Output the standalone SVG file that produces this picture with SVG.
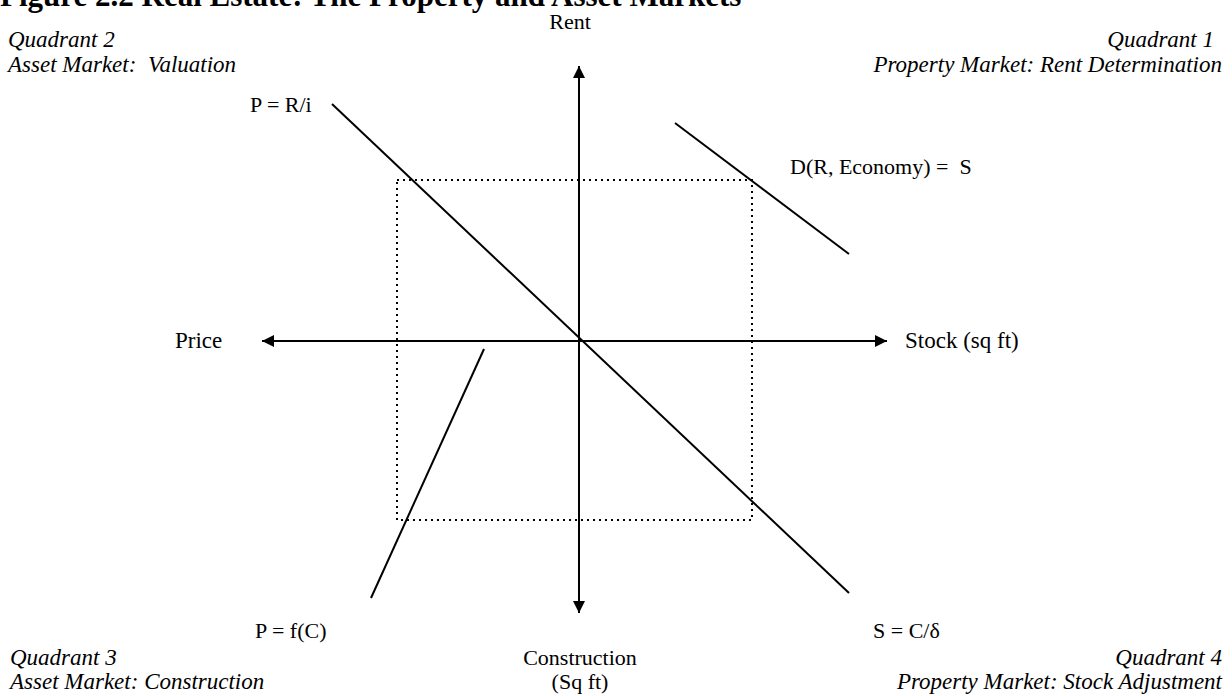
<svg xmlns="http://www.w3.org/2000/svg" width="1232" height="696" viewBox="0 0 1232 696">
<style>
text{font-family:"Liberation Serif","Times New Roman",serif;font-size:22px;fill:#000}
.it{font-style:italic;font-size:23px}
.r{text-anchor:end}
.m{text-anchor:middle}
.title{font-weight:bold;font-size:31px}
.ln{stroke:#000;stroke-width:2;fill:none}
.ax{stroke:#000;stroke-width:2;fill:none}
.dot{stroke:#000;stroke-width:2;stroke-dasharray:2 4;fill:none}
</style>
<defs>
<marker id="ah" viewBox="0 0 10 10" refX="10" refY="5" markerWidth="6" markerHeight="6" orient="auto-start-reverse" markerUnits="strokeWidth">
<path d="M0,0 L10,5 L0,10 z" fill="#000"/>
</marker>
</defs>
<rect width="1232" height="696" fill="#fff"/>
<text class="title" x="0" y="6">Figure 2.2 Real Estate: The Property and Asset Markets</text>
<g id="connectors">
<line class="ax" x1="579" y1="613" x2="579" y2="66" marker-start="url(#ah)" marker-end="url(#ah)"/>
<line class="ax" x1="262" y1="341" x2="887" y2="341" marker-start="url(#ah)" marker-end="url(#ah)"/>
<path class="dot" d="M397,180 H752 V520 H397 Z"/>
</g>
<g id="curve-valuation"><line class="ln" x1="332" y1="104" x2="849" y2="593"/><text x="250" y="112">P = R/i</text></g>
<g id="curve-demand"><line class="ln" x1="675" y1="123" x2="849" y2="254"/><text x="790" y="174" xml:space="preserve">D(R, Economy) =  S</text></g>
<g id="curve-construction"><line class="ln" x1="484" y1="349" x2="371" y2="598"/><text x="255" y="638">P = f(C)</text></g>
<g id="curve-stock"><text x="873" y="638">S = C/δ</text></g>
<g id="axis-labels">
<text class="m" x="570" y="29">Rent</text>
<text x="175" y="348" style="font-size:23px">Price</text>
<text x="905" y="348" style="font-size:23px">Stock (sq ft)</text>
<text class="m" x="580" y="665">Construction</text>
<text class="m" x="580" y="689">(Sq ft)</text>
</g>
<g id="q2"><text class="it" x="8" y="47">Quadrant 2</text><text class="it" x="8" y="72" xml:space="preserve">Asset Market:  Valuation</text></g>
<g id="q1"><text class="it r" x="1214" y="47">Quadrant 1</text><text class="it r" x="1222" y="72">Property Market: Rent Determination</text></g>
<g id="q3"><text class="it" x="10" y="665">Quadrant 3</text><text class="it" x="10" y="689">Asset Market: Construction</text></g>
<g id="q4"><text class="it r" x="1222" y="665">Quadrant 4</text><text class="it r" x="1222" y="689">Property Market: Stock Adjustment</text></g>
</svg>
